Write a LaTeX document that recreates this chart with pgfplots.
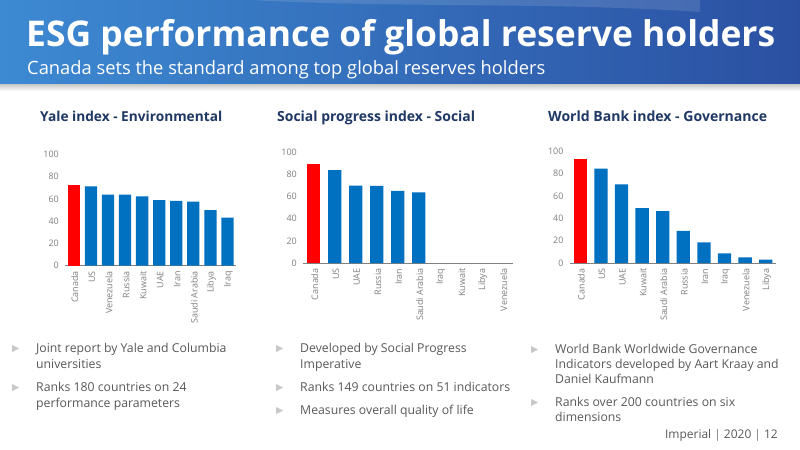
\documentclass[border=0pt]{standalone}
\usepackage{pgfplots}
\pgfplotsset{compat=1.18}
\usepackage{fontspec}
\setmainfont{Open Sans}
\newfontfamily\sym{DejaVu Sans}
\definecolor{barblue}{HTML}{0070C0}
\definecolor{barred}{HTML}{FF0000}
\definecolor{navy}{HTML}{203864}
\definecolor{txtgray}{HTML}{595959}
\definecolor{ticgray}{HTML}{7F7F7F}
\definecolor{axgray}{HTML}{808080}
\definecolor{bullgray}{HTML}{C8C8C8}
\definecolor{hdrA}{HTML}{3D8AD2}
\definecolor{hdrB}{HTML}{2B50A2}
\pgfplotsset{esg/.style={scale only axis, ymin=0, ymax=100, xmin=-0.5, xmax=9.5,
  ytick={0,20,...,100}, xtick={0,...,9},
  axis x line*=bottom, axis y line*=left,
  y axis line style={draw=none}, x axis line style={draw=axgray, line width=0.9pt},
  major tick length=0pt,
  tick label style={font=\fontsize{9}{10}\selectfont, text=ticgray},
  yticklabel style={xshift=-3bp},
  xticklabel style={rotate=90, anchor=east, yshift=-1bp, xshift=-2bp},
  /pgf/number format/assume math mode=true,
  ybar, bar shift=0pt, clip=false}}
\begin{document}
\begin{tikzpicture}
\begin{scope}[x=1bp,y=-1bp]
\fill[white] (0,0) rectangle (800,450);
\clip (0,0) rectangle (800,450);
% header
\shade[top color=black!25, bottom color=white] (0,83) rectangle (800,91);
\shade[left color=hdrA, right color=hdrB] (0,0) rectangle (800,84);
\fill[white, opacity=0.12] (250,0) .. controls (400,8) and (550,2) .. (700,12) -- (700,0) -- cycle;
\node[anchor=base west, inner sep=0, text=white] at (26,47) {\resizebox{749bp}{!}{\fontsize{34}{36}\selectfont\bfseries ESG performance of global reserve holders}};
\node[anchor=base west, inner sep=0, text=white] at (27,75) {\resizebox{518bp}{!}{\fontsize{17}{19}\selectfont Canada sets the standard among top global reserves holders}};
% chart titles
\node[anchor=base west, inner sep=0, text=navy] at (40,122) {\resizebox{182bp}{!}{\fontsize{13}{15}\selectfont\bfseries Yale index - Environmental}};
\node[anchor=base west, inner sep=0, text=navy] at (277,122) {\resizebox{198bp}{!}{\fontsize{13}{15}\selectfont\bfseries Social progress index - Social}};
\node[anchor=base west, inner sep=0, text=navy] at (548,122) {\resizebox{219bp}{!}{\fontsize{13}{15}\selectfont\bfseries World Bank index - Governance}};
% bullets
\tikzset{bl/.style={anchor=base west, inner sep=0, text=txtgray, font=\fontsize{12.3}{14}\selectfont},
         bu/.style={anchor=base west, inner sep=0, text=bullgray, font=\sym\fontsize{9.5}{10}\selectfont}}
\node[bu] at (12,352) {▶}; \node[bl] at (36,353) {Joint report by Yale and Columbia};
\node[bl] at (36,369) {universities};
\node[bu] at (12,390) {▶}; \node[bl] at (36,391) {Ranks 180 countries on 24};
\node[bl] at (36,407) {performance parameters};
\node[bu] at (276,352) {▶}; \node[bl] at (300,353) {Developed by Social Progress};
\node[bl] at (300,369) {Imperative};
\node[bu] at (276,390) {▶}; \node[bl] at (300,391) {Ranks 149 countries on 51 indicators};
\node[bu] at (276,413) {▶}; \node[bl] at (300,414) {Measures overall quality of life};
\node[bu] at (531,353) {▶}; \node[bl] at (555,354) {World Bank Worldwide Governance};
\node[bl] at (555,369) {Indicators developed by Aart Kraay and};
\node[bl] at (555,384) {Daniel Kaufmann};
\node[bu] at (531,405) {▶}; \node[bl] at (555,406) {Ranks over 200 countries on six};
\node[bl] at (555,421) {dimensions};
% footer
\node[anchor=base east, inner sep=0, text=txtgray, font=\fontsize{12}{14}\selectfont] at (778,438) {Imperial \textcolor{ticgray}{|} 2020 \textcolor{ticgray}{|} 12};
\end{scope}
% chart 1
\begin{axis}[esg, at={(65.3bp,-265.7bp)}, anchor=south west, width=170.7bp, height=111.4bp, bar width=12.3bp,
  xticklabels={Canada,US,Venezuela,Russia,Kuwait,UAE,Iran,Saudi Arabia,Libya,Iraq}]
\addplot[fill=barred, draw=none] coordinates {(0,72.2)};
\addplot[fill=barblue, draw=none] coordinates {(1,71.2) (2,63.8) (3,63.8) (4,62.3) (5,58.9) (6,58.2) (7,57.5) (8,49.8) (9,43.2)};
\end{axis}
% chart 2
\begin{axis}[esg, at={(303.3bp,-263bp)}, anchor=south west, width=210bp, height=111bp, bar width=13.3bp,
  xticklabels={Canada,US,UAE,Russia,Iran,Saudi Arabia,Iraq,Kuwait,Libya,Venezuela}]
\addplot[fill=barred, draw=none] coordinates {(0,88.8)};
\addplot[fill=barblue, draw=none] coordinates {(1,83.6) (2,69.6) (3,69.4) (4,64.9) (5,63.7)};
\end{axis}
% chart 3
\begin{axis}[esg, at={(570bp,-263bp)}, anchor=south west, width=206bp, height=112bp, bar width=13.3bp,
  xticklabels={Canada,US,UAE,Kuwait,Saudi Arabia,Russia,Iran,Iraq,Venezuela,Libya}]
\addplot[fill=barred, draw=none] coordinates {(0,93.1)};
\addplot[fill=barblue, draw=none] coordinates {(1,84.2) (2,70.1) (3,49.0) (4,46.3) (5,28.7) (6,18.5) (7,8.7) (8,5.1) (9,3.0)};
\end{axis}
\end{tikzpicture}
\end{document}
